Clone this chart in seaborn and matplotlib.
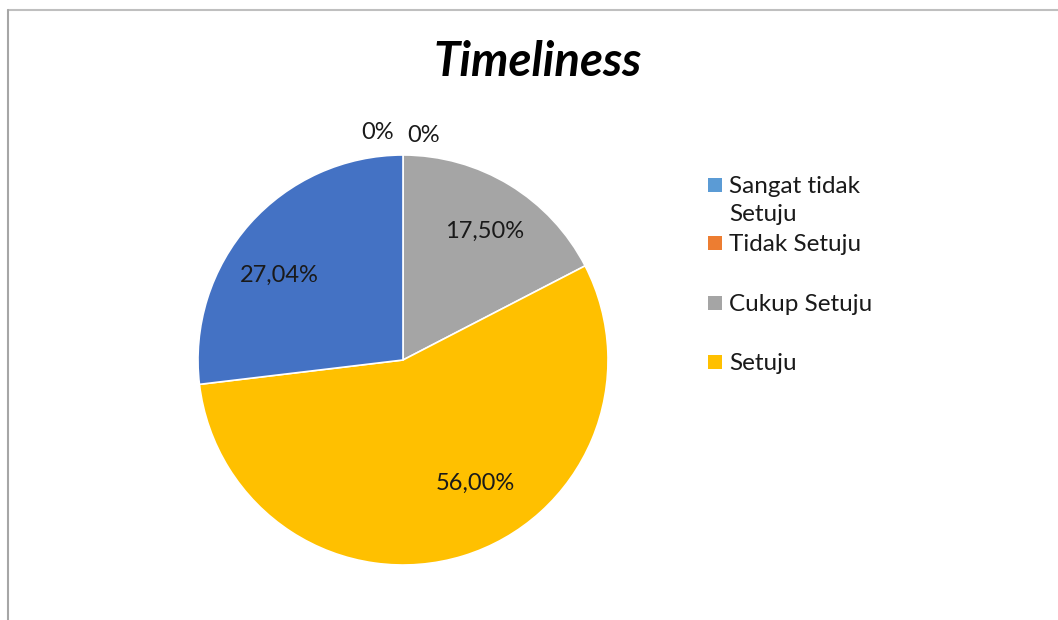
import matplotlib
matplotlib.use("Agg")
import matplotlib.pyplot as plt
import seaborn as sns
from matplotlib.patches import Rectangle
from matplotlib.lines import Line2D

# ---- data ----
categories = ["Sangat tidak Setuju", "Tidak Setuju", "Cukup Setuju", "Setuju", "Sangat Setuju"]
values = [0.0, 0.0, 17.50, 56.00, 27.04]
value_labels = ["0%", "0%", "17,50%", "56,00%", "27,04%"]
legend_labels = ["Sangat tidak\nSetuju", "Tidak Setuju", "Cukup Setuju", "Setuju"]
title = "Timeliness"

colors = ["#5B9BD5", "#ED7D31", "#A5A5A5", "#FFC000", "#4472C4"]

sns.set_theme(style="white")
plt.rcParams["font.family"] = ["Lato", "DejaVu Sans"]

W, H = 1058, 620
fig = plt.figure(figsize=(W / 100, H / 100), dpi=100)
fig.patch.set_facecolor("white")

# frame lines (top and left)
fig.add_artist(Line2D([8 / W, 1.0], [1 - 10 / H, 1 - 10 / H], color="#BFBFBF", lw=1.5))
fig.add_artist(Line2D([8 / W, 8 / W], [0, 1 - 10 / H], color="#A6A6A6", lw=1.5))

cx, cy, r = 403, 360, 205
ax = fig.add_axes([(cx - r) / W, (H - cy - r) / H, 2 * r / W, 2 * r / H])
wedges, _ = ax.pie(values, colors=colors, startangle=90, counterclock=False,
                   wedgeprops=dict(edgecolor="white", linewidth=1.2))
ax.set_xlim(-1, 1)
ax.set_ylim(-1, 1)
ax.set_aspect("auto")
ax.axis("off")

# data labels (layout positions in pie radius units)
label_pos = [(-0.122, 1.112), (0.102, 1.093), (0.400, 0.629), (0.351, -0.600), (-0.603, 0.415)]
for txt, (x, y) in zip(value_labels, label_pos):
    ax.text(x, y, txt, ha="center", va="center", fontsize=17, color="#1a1a1a", clip_on=False)

# title
fig.text(538 / W, 1 - 62 / H, title, ha="center", va="center", fontsize=34,
         fontweight="bold", fontstyle="italic", color="black")

# legend (first four entries, as in the reference)
leg_rows = [185, 243, 303, 362]
for lab, col, y in zip(legend_labels, colors[:4], leg_rows):
    fig.add_artist(Rectangle((708 / W, 1 - (y + 7) / H), 14 / W, 14 / H,
                             facecolor=col, edgecolor="none", transform=fig.transFigure))
    for i, line in enumerate(lab.split("\n")):
        fig.text(729 / W, 1 - (y + 8 + 28 * i) / H, line, ha="left", va="baseline",
                 fontsize=17.5, color="#1a1a1a")

fig.savefig("out.png", dpi=100, facecolor="white")
